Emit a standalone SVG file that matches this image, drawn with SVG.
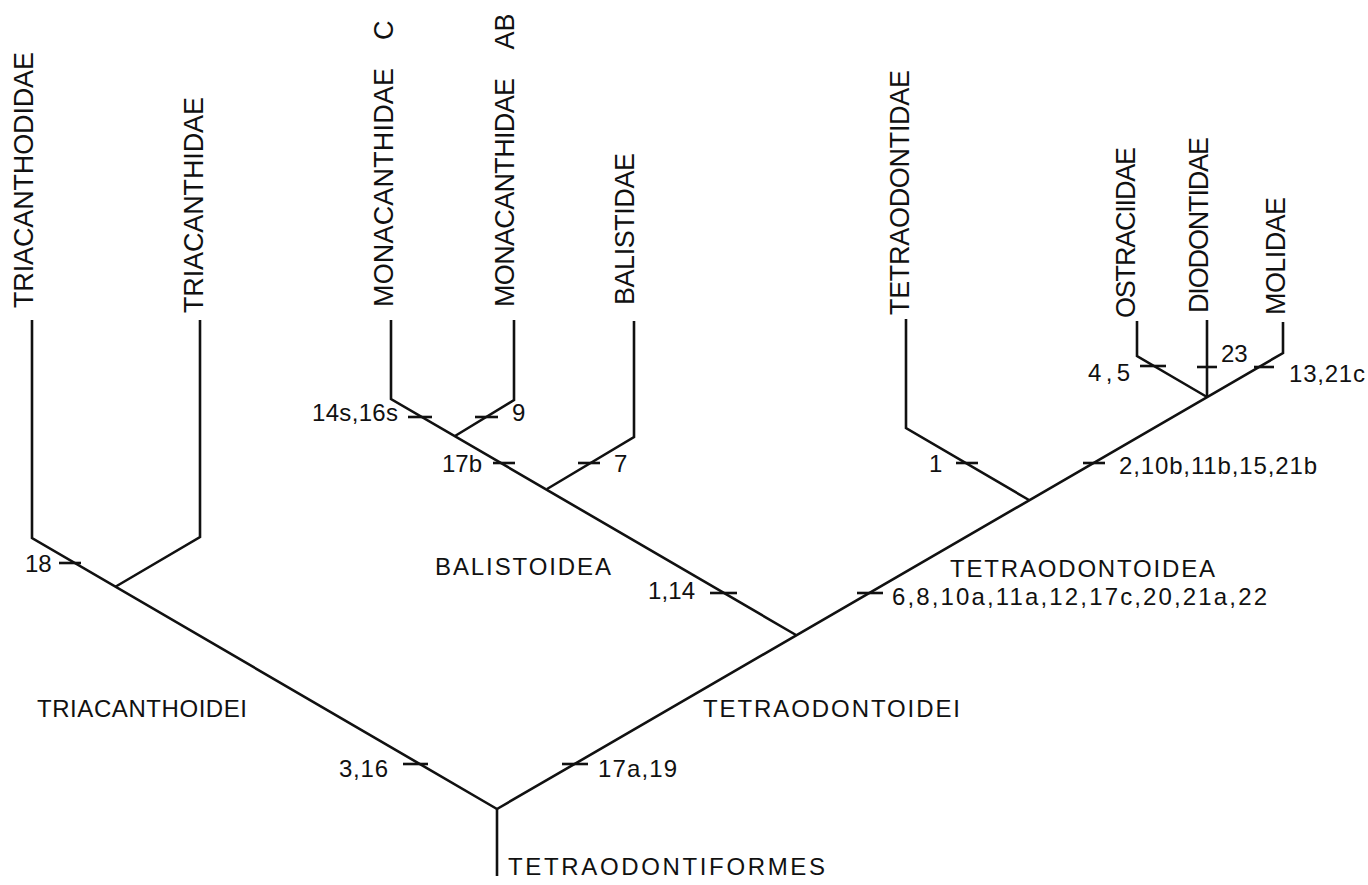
<svg xmlns="http://www.w3.org/2000/svg" width="1368" height="885" viewBox="0 0 1368 885">
<style>
.ln{fill:none;stroke:#111;stroke-width:2.6;stroke-linejoin:miter;stroke-linecap:butt}
.tk{fill:none;stroke:#111;stroke-width:2.6}
text{font-family:"Liberation Sans",Arial,sans-serif;fill:#111}
.tx{font-size:27px}
.gp{font-size:24px}
.nm{font-size:24px}
</style>
<rect width="1368" height="885" fill="#fff"/>
<g id="connectors">
<path class="ln" d="M497,809 V876"/>
<path class="ln" d="M497,809 L32,538 V320"/>
<path class="ln" d="M115,587 L200,537 V320"/>
<path class="ln" d="M497,809 L1283,353 V322"/>
<path class="ln" d="M796,635 L391,399 V320"/>
<path class="ln" d="M455,436 L514,400 V320"/>
<path class="ln" d="M547,489 L634,437 V321"/>
<path class="ln" d="M1029,500 L906,428 V319"/>
<path class="ln" d="M1207,397 L1137,356 V321"/>
<path class="ln" d="M1207,397 V320"/>
<g id="ticks">
<path class="tk" d="M59,563 H81"/>
<path class="tk" d="M403,764 H428"/>
<path class="tk" d="M562,764 H588"/>
<path class="tk" d="M710,593 H737"/>
<path class="tk" d="M857,593 H883"/>
<path class="tk" d="M493,463 H515"/>
<path class="tk" d="M578,463 H600"/>
<path class="tk" d="M408,417 H432"/>
<path class="tk" d="M475,417 H498"/>
<path class="tk" d="M956,463 H978"/>
<path class="tk" d="M1083,463 H1105"/>
<path class="tk" d="M1140,366 H1166"/>
<path class="tk" d="M1197,367 H1217"/>
<path class="tk" d="M1254,367 H1274"/>
</g>
</g>
<g id="taxon-triacanthodidae"><text class="tx" transform="translate(33,308) rotate(-90)" textLength="256" lengthAdjust="spacing">TRIACANTHODIDAE</text></g>
<g id="taxon-triacanthidae"><text class="tx" transform="translate(203,313) rotate(-90)" textLength="216" lengthAdjust="spacing">TRIACANTHIDAE</text></g>
<g id="taxon-monacanthidae-c"><text class="tx" transform="translate(393,307) rotate(-90)"><tspan x="0" textLength="239" lengthAdjust="spacing">MONACANTHIDAE</tspan><tspan x="259.5"> C</tspan></text></g>
<g id="taxon-monacanthidae-ab"><text class="tx" transform="translate(514,307) rotate(-90)"><tspan x="0" textLength="229" lengthAdjust="spacing">MONACANTHIDAE</tspan><tspan x="251.5"> AB</tspan></text></g>
<g id="taxon-balistidae"><text class="tx" transform="translate(634,305) rotate(-90)" textLength="152" lengthAdjust="spacing">BALISTIDAE</text></g>
<g id="taxon-tetraodontidae"><text class="tx" transform="translate(909,315) rotate(-90)" textLength="245" lengthAdjust="spacing">TETRAODONTIDAE</text></g>
<g id="taxon-ostraciidae"><text class="tx" transform="translate(1135,318) rotate(-90)" textLength="171" lengthAdjust="spacing">OSTRACIIDAE</text></g>
<g id="taxon-diodontidae"><text class="tx" transform="translate(1208,313) rotate(-90)" textLength="176" lengthAdjust="spacing">DIODONTIDAE</text></g>
<g id="taxon-molidae"><text class="tx" transform="translate(1285,315) rotate(-90)" textLength="118" lengthAdjust="spacing">MOLIDAE</text></g>
<g id="root-tetraodontiformes"><text class="gp" x="508" y="875" textLength="317" lengthAdjust="spacing">TETRAODONTIFORMES</text></g>
<g id="clade-triacanthoidei"><text class="gp" x="37" y="717" textLength="210" lengthAdjust="spacing">TRIACANTHOIDEI</text>
<text class="nm" x="339" y="777" textLength="49" lengthAdjust="spacing">3,16</text>
<text class="nm" x="25" y="572">18</text></g>
<g id="clade-tetraodontoidei"><text class="gp" x="703" y="717" textLength="257" lengthAdjust="spacing">TETRAODONTOIDEI</text>
<text class="nm" x="598" y="777" textLength="79" lengthAdjust="spacing">17a,19</text></g>
<g id="clade-balistoidea"><text class="gp" x="435" y="575" textLength="176" lengthAdjust="spacing">BALISTOIDEA</text>
<text class="nm" x="648" y="599" textLength="47" lengthAdjust="spacing">1,14</text>
<text class="nm" x="442" y="472" textLength="40" lengthAdjust="spacing">17b</text>
<text class="nm" x="614" y="472">7</text>
<text class="nm" x="312" y="421" textLength="86" lengthAdjust="spacing">14s,16s</text>
<text class="nm" x="512" y="421">9</text></g>
<g id="clade-tetraodontoidea"><text class="gp" x="950" y="577" textLength="265" lengthAdjust="spacing">TETRAODONTOIDEA</text>
<text class="nm" x="892" y="605" textLength="375" lengthAdjust="spacing">6,8,10a,11a,12,17c,20,21a,22</text>
<text class="nm" x="929" y="472">1</text>
<text class="nm" x="1119" y="474" textLength="198" lengthAdjust="spacing">2,10b,11b,15,21b</text>
<text class="nm" x="1088" y="381" textLength="42" lengthAdjust="spacing">4,5</text>
<text class="nm" x="1221" y="362">23</text>
<text class="nm" x="1289" y="382" textLength="76" lengthAdjust="spacing">13,21c</text></g>
</svg>
